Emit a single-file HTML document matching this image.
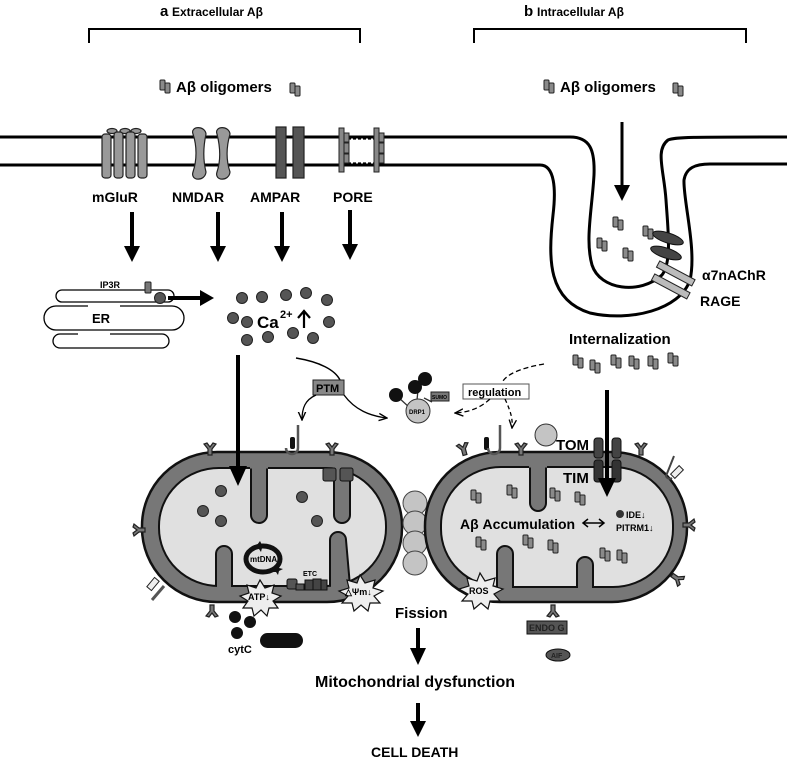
<!DOCTYPE html>
<html><head><meta charset="utf-8"><style>
html,body{margin:0;padding:0;background:#fff}
svg{display:block}
text{font-family:"Liberation Sans",sans-serif;font-weight:bold;fill:#000}
</style></head><body>
<svg width="787" height="759" viewBox="0 0 787 759" xmlns="http://www.w3.org/2000/svg">
<defs>
<marker id="sa" viewBox="0 0 10 10" refX="9" refY="5" markerWidth="7" markerHeight="7" orient="auto"><path d="M0,1L9,5L0,9" fill="none" stroke="#000" stroke-width="1.5"/></marker>
<g id="olig"><rect x="0" y="0" width="5" height="10" rx="1" fill="#8a8a8a" stroke="#222" stroke-width="1"/><rect x="5" y="3" width="5" height="10" rx="1" fill="#8a8a8a" stroke="#222" stroke-width="1"/></g>
<g id="yr"><path d="M-2,0 L-2,-6 L-6,-11 L-3,-12 L0,-8 L3,-12 L6,-11 L2,-6 L2,0z" fill="#777" stroke="#222" stroke-width="1.2"/></g>
<g id="arr"><rect x="-2" y="0" width="4" height="36" fill="#000"/><path d="M-8,34L8,34L0,50z" fill="#000"/></g>
</defs>

<text x="160" y="16" font-size="15">a</text><text x="172" y="16" font-size="12">Extracellular Aβ</text>
<path d="M89,43V29H360V43" fill="none" stroke="#000" stroke-width="2"/>
<text x="524" y="16" font-size="15">b</text><text x="537" y="16" font-size="12">Intracellular Aβ</text>
<path d="M474,43V29H746V43" fill="none" stroke="#000" stroke-width="2"/>

<use href="#olig" x="160" y="80"/><text x="176" y="92" font-size="15">Aβ oligomers</text><use href="#olig" x="290" y="83"/>
<use href="#olig" x="544" y="80"/><text x="560" y="92" font-size="15">Aβ oligomers</text><use href="#olig" x="673" y="83"/>

<path d="M0,137 H570 C590,137 595,150 594,175 C592,210 585,240 592,265 C600,290 640,295 662,275 C672,262 668,230 666,200 C664,170 655,150 668,140 C675,137 690,137 787,137" fill="none" stroke="#000" stroke-width="3"/>
<path d="M0,165 H540 C555,165 556,190 553,215 C548,260 548,300 590,313 C630,322 680,310 690,280 C697,250 683,200 684,180 C686,168 695,164 710,164 H787" fill="none" stroke="#000" stroke-width="3"/>
<path d="M348,139H378M348,163H378" stroke="#000" stroke-width="1.2" stroke-dasharray="3,2"/>

<g fill="#999" stroke="#222" stroke-width="1.2">
<ellipse cx="112" cy="131" rx="5" ry="2.5"/><ellipse cx="125" cy="131" rx="5" ry="2.5"/><ellipse cx="136" cy="131" rx="5" ry="2.5"/>
<rect x="102" y="134" width="9" height="44" rx="3"/><rect x="114" y="132" width="9" height="46" rx="3"/><rect x="126" y="132" width="9" height="46" rx="3"/><rect x="138" y="134" width="9" height="44" rx="3"/>
<path d="M193,134 C190,126 205,125 206,134 C203,148 203,160 206,172 C205,182 190,181 193,172 C197,160 197,146 193,134z"/>
<path d="M217,134 C214,126 229,125 230,134 C226,148 226,160 230,172 C229,182 214,181 217,172 C221,160 220,146 217,134z"/>
</g>
<rect x="276" y="127" width="10" height="51" fill="#555" stroke="#222" stroke-width="1.2"/>
<rect x="293" y="127" width="11" height="51" fill="#555" stroke="#222" stroke-width="1.2"/>
<g fill="#888" stroke="#222" stroke-width="1">
<rect x="339" y="128" width="5" height="44"/><rect x="344" y="133" width="5" height="9"/><rect x="344" y="143" width="5" height="10"/><rect x="344" y="154" width="5" height="9"/>
<rect x="374" y="128" width="5" height="44"/><rect x="379" y="133" width="5" height="9"/><rect x="379" y="143" width="5" height="10"/><rect x="379" y="154" width="5" height="9"/>
</g>

<text x="92" y="202" font-size="14">mGluR</text><text x="172" y="202" font-size="14">NMDAR</text><text x="250" y="202" font-size="14">AMPAR</text><text x="333" y="202" font-size="14">PORE</text>
<use href="#arr" x="132" y="212"/><use href="#arr" x="218" y="212"/><use href="#arr" x="282" y="212"/><use href="#arr" x="350" y="210"/>

<g fill="none" stroke="#000" stroke-width="1.3">
<path d="M148,290 H62 a6,6 0 0 0 0,12 H168 a6,6 0 0 0 0,-12z"/>
<path d="M88,306 H56 a12,12 0 0 0 0,24 H172 a12,12 0 0 0 0,-24 H120"/>
<path d="M78,334 H60 a7,7 0 0 0 0,14 H162 a7,7 0 0 0 0,-14 H110"/>
</g>
<text x="100" y="288" font-size="9">IP3R</text>
<rect x="145" y="282" width="6" height="11" rx="1" fill="#777" stroke="#222"/>
<circle cx="160" cy="298" r="5.5" fill="#555" stroke="#222"/>
<text x="92" y="323" font-size="13">ER</text>
<path d="M168,298 H202" stroke="#000" stroke-width="4"/><path d="M200,290L214,298L200,306z"/>

<g fill="#555" stroke="#222">
<circle cx="242" cy="298" r="5.5"/><circle cx="262" cy="297" r="5.5"/><circle cx="286" cy="295" r="5.5"/><circle cx="306" cy="293" r="5.5"/><circle cx="327" cy="300" r="5.5"/>
<circle cx="233" cy="318" r="5.5"/><circle cx="247" cy="322" r="5.5"/><circle cx="329" cy="322" r="5.5"/>
<circle cx="247" cy="340" r="5.5"/><circle cx="268" cy="337" r="5.5"/><circle cx="293" cy="333" r="5.5"/><circle cx="313" cy="338" r="5.5"/>
</g>
<text x="257" y="328" font-size="17">Ca</text><text x="280" y="318" font-size="11">2+</text>
<path d="M304,328V312M298,318L304,311L310,318" stroke="#000" stroke-width="2.2" fill="none"/>

<use href="#olig" x="613" y="217"/><use href="#olig" x="643" y="226"/><use href="#olig" x="597" y="238"/><use href="#olig" x="623" y="248"/>
<path d="M622,122V187" stroke="#000" stroke-width="3"/><path d="M614,185L630,185L622,201z"/>
<ellipse cx="668" cy="238" rx="16" ry="5" transform="rotate(18 668 238)" fill="#444" stroke="#111"/>
<ellipse cx="666" cy="253" rx="16" ry="5" transform="rotate(18 666 253)" fill="#444" stroke="#111"/>
<rect x="656" y="270" width="40" height="7" transform="rotate(28 676 273)" fill="#bbb" stroke="#222"/>
<rect x="651" y="283" width="40" height="7" transform="rotate(28 671 286)" fill="#bbb" stroke="#222"/>
<text x="702" y="280" font-size="14">α7nAChR</text>
<text x="700" y="306" font-size="14">RAGE</text>

<text x="569" y="344" font-size="15">Internalization</text>
<use href="#olig" x="573" y="355"/><use href="#olig" x="590" y="360"/><use href="#olig" x="611" y="355"/><use href="#olig" x="629" y="356"/><use href="#olig" x="648" y="356"/><use href="#olig" x="668" y="353"/>

<rect x="142" y="452" width="260" height="150" rx="75" ry="74" fill="#777" stroke="#111" stroke-width="2.5"/>
<rect x="159" y="468" width="227" height="118" rx="60" ry="58" fill="#e0e0e0" stroke="#111" stroke-width="2"/>
<g fill="#777" stroke="#111" stroke-width="2">
<path d="M251,468 V515 a8,8 0 0 0 16,0 V468"/>
<path d="M334,468 V515 a8,8 0 0 0 16,0 V468"/>
<path d="M216,586 V554 a8,8 0 0 1 16,0 V586"/>
<path d="M330,586 L330,540 a8,8 0 0 1 16,0 L350,586"/>
</g>
<path d="M250,467H268M333,467H351M217,587H231M331,587H349" stroke="#777" stroke-width="3"/>
<rect x="323" y="468" width="13" height="13" rx="2" fill="#555" stroke="#111"/><rect x="340" y="468" width="13" height="13" rx="2" fill="#555" stroke="#111"/>
<g fill="#555" stroke="#222"><circle cx="221" cy="491" r="5.5"/><circle cx="203" cy="511" r="5.5"/><circle cx="221" cy="521" r="5.5"/><circle cx="302" cy="497" r="5.5"/><circle cx="317" cy="521" r="5.5"/></g>
<use href="#yr" x="210" y="455"/><use href="#yr" x="332" y="455"/><use href="#yr" x="212" y="605" transform="rotate(180 212 605)"/>
<use href="#yr" x="0" y="0" transform="translate(145,530) rotate(-90)"/>
<rect x="290" y="437" width="5" height="12" rx="2" fill="#111"/>
<path d="M298,425 V448 a6,6 0 0 1 -12,0" fill="none" stroke="#555" stroke-width="2.5"/>
<rect x="150" y="578" width="6" height="12" transform="rotate(40 153 584)" fill="#eee" stroke="#222"/>
<path d="M152,600 L164,586" stroke="#555" stroke-width="3"/>
<ellipse cx="263" cy="559" rx="17" ry="13" fill="none" stroke="#111" stroke-width="5"/>
<text x="250" y="562" font-size="8">mtDNA</text>
<path d="M257,545 l3,-4 2,4 4,1 -4,2 -1,4 -2,-3 -4,0 2,-3z" fill="#111"/>
<path d="M274,568 l3,-4 2,4 4,1 -4,2 -1,4 -2,-3 -4,0 2,-3z" fill="#111"/>
<rect x="287" y="579" width="10" height="10" rx="2" fill="#555" stroke="#111"/>
<rect x="296" y="584" width="8" height="6" fill="#555" stroke="#111"/>
<rect x="305" y="580" width="8" height="10" fill="#444" stroke="#111"/><rect x="313" y="579" width="8" height="11" fill="#444" stroke="#111"/><rect x="321" y="580" width="6" height="10" fill="#444" stroke="#111"/>
<text x="303" y="576" font-size="7">ETC</text>
<path d="M260,580 l5,8 9,-3 -2,8 9,3 -8,5 5,7 -9,0 -2,8 -6,-6 -7,6 -2,-8 -9,0 5,-7 -8,-5 9,-3 -2,-8 9,3z" fill="#eee" stroke="#111" stroke-width="1.2"/>
<text x="248" y="600" font-size="9">ATP↓</text>
<path d="M360,575 l5,8 10,-3 -2,8 10,3 -9,5 6,7 -10,0 -2,8 -7,-6 -7,6 -2,-8 -10,0 6,-7 -9,-5 10,-3 -2,-8 10,3z" fill="#eee" stroke="#111" stroke-width="1.2"/>
<text x="345" y="595" font-size="9">△Ψm↓</text>

<g fill="#c4c4c4" stroke="#444"><circle cx="415" cy="503" r="12"/><circle cx="415" cy="523" r="12"/><circle cx="415" cy="543" r="12"/><circle cx="415" cy="563" r="12"/></g>

<rect x="425" y="452" width="262" height="150" rx="75" ry="74" fill="#777" stroke="#111" stroke-width="2.5"/>
<rect x="441" y="467" width="232" height="120" rx="60" ry="58" fill="#e0e0e0" stroke="#111" stroke-width="2"/>
<g fill="#777" stroke="#111" stroke-width="2">
<path d="M530,467 V503 a8,8 0 0 0 16,0 V467"/>
<path d="M497,587 V554 a8,8 0 0 1 16,0 V587"/>
<path d="M577,587 V565 a8,8 0 0 1 16,0 V587"/>
</g>
<path d="M529,466H547M498,588H512M578,588H592" stroke="#777" stroke-width="3"/>
<rect x="594" y="438" width="9" height="20" rx="3" fill="#444" stroke="#111"/><rect x="612" y="438" width="9" height="20" rx="3" fill="#444" stroke="#111"/>
<rect x="594" y="460" width="9" height="22" rx="3" fill="#333" stroke="#111"/><rect x="612" y="460" width="9" height="22" rx="3" fill="#333" stroke="#111"/>
<text x="556" y="450" font-size="15">TOM</text><text x="563" y="483" font-size="15">TIM</text>
<path d="M607,390V480" stroke="#000" stroke-width="4"/><path d="M598,478L616,478L607,497z"/>
<use href="#olig" x="471" y="490"/><use href="#olig" x="507" y="485"/><use href="#olig" x="550" y="488"/><use href="#olig" x="575" y="492"/>
<use href="#olig" x="476" y="537"/><use href="#olig" x="523" y="535"/><use href="#olig" x="548" y="540"/><use href="#olig" x="600" y="548"/><use href="#olig" x="617" y="550"/>
<text x="460" y="529" font-size="14">Aβ Accumulation</text>
<path d="M583,523H604" stroke="#000" stroke-width="1.5"/><path d="M588,519L583,523L588,527M599,519L604,523L599,527" fill="none" stroke="#000" stroke-width="1.5"/>
<circle cx="620" cy="514" r="4" fill="#333"/>
<text x="626" y="518" font-size="9">IDE↓</text><text x="616" y="531" font-size="9">PITRM1↓</text>
<use href="#yr" x="465" y="455" transform="rotate(-15 465 455)"/><use href="#yr" x="521" y="455"/><use href="#yr" x="641" y="455"/>
<use href="#yr" x="0" y="0" transform="translate(683,525) rotate(90)"/><use href="#yr" x="0" y="0" transform="translate(672,575) rotate(125)"/><use href="#yr" x="553" y="605" transform="rotate(180 553 605)"/>
<circle cx="546" cy="435" r="11" fill="#c4c4c4" stroke="#333"/>
<rect x="484" y="437" width="5" height="13" rx="2" fill="#111"/>
<path d="M500,425 V448 a6,6 0 0 1 -12,0" fill="none" stroke="#555" stroke-width="2.5"/>
<path d="M674,456 L666,476 a4,4 0 0 0 6,2" fill="none" stroke="#444" stroke-width="2"/>
<rect x="674" y="466" width="6" height="12" transform="rotate(45 677 472)" fill="#eee" stroke="#222"/>
<path d="M480,573 l5,8 10,-3 -2,8 10,3 -9,5 6,7 -10,0 -2,8 -7,-6 -7,6 -2,-8 -10,0 6,-7 -9,-5 10,-3 -2,-8 10,3z" fill="#eee" stroke="#111" stroke-width="1.2"/>
<text x="469" y="594" font-size="9">ROS</text>

<path d="M296,358 C320,362 335,370 340,380" fill="none" stroke="#000" stroke-width="1.5"/>
<rect x="313" y="380" width="31" height="15" fill="#888" stroke="#222"/>
<text x="316" y="392" font-size="11">PTM</text>
<path d="M316,395 C305,400 302,408 302,420" fill="none" stroke="#000" stroke-width="1.3" marker-end="url(#sa)"/>
<path d="M344,395 C355,410 370,416 387,418" fill="none" stroke="#000" stroke-width="1.3" marker-end="url(#sa)"/>
<path d="M398,397L410,408M418,390L417,400M424,398L432,402" stroke="#333" stroke-width="1.3"/>
<circle cx="418" cy="411" r="12" fill="#c4c4c4" stroke="#333"/>
<text x="409" y="414" font-size="6">DRP1</text>
<circle cx="396" cy="395" r="7" fill="#111"/>
<circle cx="415" cy="387" r="7" fill="#111"/><circle cx="425" cy="379" r="7" fill="#111"/>
<rect x="431" y="392" width="18" height="9" fill="#777" stroke="#222"/><text x="432" y="399" font-size="5">SUMO</text>
<rect x="463" y="384" width="66" height="15" fill="#fff" stroke="#555"/>
<text x="468" y="396" font-size="11">regulation</text>
<path d="M544,364 C520,368 505,375 502,383" fill="none" stroke="#000" stroke-width="1.3" stroke-dasharray="5,3"/>
<path d="M490,399 C480,408 470,412 455,413" fill="none" stroke="#000" stroke-width="1.3" stroke-dasharray="5,3" marker-end="url(#sa)"/>
<path d="M505,399 C510,410 513,418 512,428" fill="none" stroke="#000" stroke-width="1.3" stroke-dasharray="4,3" marker-end="url(#sa)"/>

<path d="M238,355V468" stroke="#000" stroke-width="4"/><path d="M229,466L247,466L238,486z"/>

<g fill="#111"><circle cx="235" cy="617" r="6"/><circle cx="250" cy="622" r="6"/><circle cx="237" cy="633" r="6"/></g>
<rect x="260" y="633" width="43" height="15" rx="7.5" fill="#111"/>
<text x="228" y="653" font-size="11">cytC</text>
<rect x="527" y="621" width="40" height="13" fill="#555" stroke="#111"/><text x="529" y="631" font-size="9" style="fill:#222">ENDO G</text>
<ellipse cx="558" cy="655" rx="12" ry="6" fill="#555" stroke="#111"/><text x="551" y="658" font-size="7" style="fill:#222">AIF</text>
<text x="395" y="618" font-size="15">Fission</text>
<rect x="416" y="628" width="4" height="22" fill="#000"/><path d="M410,648L426,648L418,665z"/>
<text x="315" y="687" font-size="16">Mitochondrial dysfunction</text>
<rect x="416" y="703" width="4" height="20" fill="#000"/><path d="M410,721L426,721L418,737z"/>
<text x="371" y="757" font-size="14">CELL DEATH</text>
</svg>
</body></html>
